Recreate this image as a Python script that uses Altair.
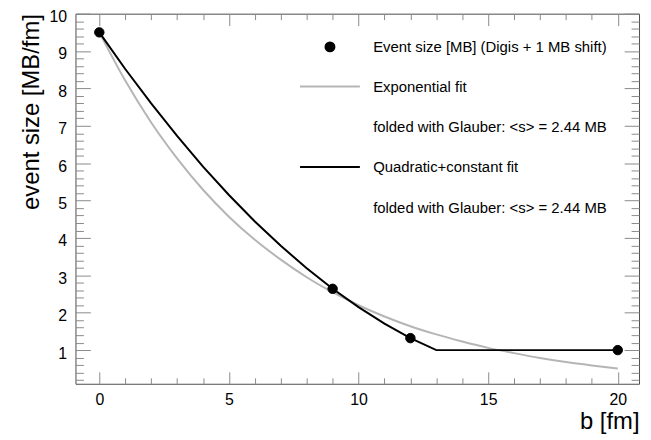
import altair as alt
import pandas as pd

# ---- data ----
pt_b = [0, 9, 12, 20]
pt_size = [9.5, 2.64, 1.32, 1.0]

exp_b = [0, 1, 2, 3, 4, 5, 6, 7, 8, 9, 10, 11, 12, 13, 14, 15, 16, 17, 18, 19, 20]
exp_size = [9.50, 8.21, 7.09, 6.13, 5.29, 4.57, 3.95, 3.42, 2.95, 2.55, 2.20,
            1.90, 1.64, 1.42, 1.23, 1.06, 0.92, 0.79, 0.68, 0.59, 0.51]

quad_b = [0, 1, 2, 3, 4, 5, 6, 7, 8, 9, 10, 11, 12, 13, 20]
quad_size = [9.50, 8.52, 7.60, 6.73, 5.91, 5.15, 4.44, 3.79, 3.19, 2.64, 2.15,
             1.71, 1.32, 1.00, 1.00]

legend_keys = ["pts", "exp", "g1", "quad", "g2"]
legend_labels = ["Event size [MB] (Digis + 1 MB shift)",
                 "Exponential fit",
                 "folded with Glauber: <s> = 2.44 MB",
                 "Quadratic+constant fit",
                 "folded with Glauber: <s> = 2.44 MB"]

x_major = [0, 5, 10, 15, 20]
x_minor = list(range(0, 21))
y_major = [1, 2, 3, 4, 5, 6, 7, 8, 9, 10]
y_minor = [round(0.2 * i, 1) for i in range(1, 51)]

# ---- layout ----
W, H = 568, 373
XD = [-0.92, 20.82]
YD = [0.1, 10]
FONT = "Liberation Sans"
TICK = "#8a8a8a"

pts_df = pd.DataFrame({"b": pt_b, "size": pt_size, "key": ["pts"] * len(pt_b)})
exp_df = pd.DataFrame({"b": exp_b, "size": exp_size})
quad_df = pd.DataFrame({"b": quad_b, "size": quad_size})

xs = alt.Scale(domain=XD, nice=False, zero=False)
ys = alt.Scale(domain=YD, nice=False, zero=False)

xtick = {"condition": {"test": "datum.value % 5 === 0", "value": 12}, "value": 6}
ytick = {"condition": {"test": "abs(datum.value - round(datum.value)) < 0.001", "value": 15}, "value": 8}

label_expr = " : ".join(
    f"datum.value == '{k}' ? '{l}'" for k, l in zip(legend_keys[:-1], legend_labels[:-1])
) + f" : '{legend_labels[-1]}'"

def tick_axis(orient, values, size, offset):
    return alt.Axis(orient=orient, values=values, tickSize=size, offset=offset,
                    labels=False, domain=False, grid=False, title=None,
                    tickColor=TICK, tickWidth=1)

gray = alt.Chart(exp_df).mark_line(color="#b5b5b5", strokeWidth=2, interpolate="monotone").encode(
    x=alt.X("b:Q", scale=xs, axis=alt.Axis(
        orient="bottom", values=x_major, ticks=False, tickSize=0, domain=False, grid=False,
        labelFontSize=16, labelFont=FONT, labelColor="black", labelPadding=8,
        title="b [fm]", titleAnchor="end", titleFontSize=24, titleFont=FONT,
        titleFontWeight="normal", titleColor="black", titlePadding=2)),
    y=alt.Y("size:Q", scale=ys, axis=alt.Axis(
        orient="left", values=y_major, ticks=False, tickSize=0, domain=False, grid=False,
        labelFontSize=16, labelFont=FONT, labelColor="black", labelPadding=9, labelOffset=3,
        title="event size [MB/fm]", titleAnchor="end", titleFontSize=24, titleFont=FONT,
        titleFontWeight="normal", titleColor="black", titlePadding=5)),
)

black = alt.Chart(quad_df).mark_line(color="black", strokeWidth=2, interpolate="linear").encode(
    x=alt.X("b:Q", scale=xs, axis=tick_axis("top", x_minor, xtick, -H)),
    y=alt.Y("size:Q", scale=ys, axis=tick_axis("right", y_minor, ytick, -W)),
)

leg = alt.Legend(title=None, orient="none", legendX=249, legendY=26,
                 labelExpr=label_expr, labelFont=FONT, labelFontSize=15,
                 labelColor="black", labelOffset=36, labelLimit=500,
                 rowPadding=24, symbolSize=81, symbolStrokeWidth=2,
                 padding=0, symbolOffset=0)

points = alt.Chart(pts_df).mark_point(filled=True, size=90, strokeWidth=1, opacity=1).encode(
    x=alt.X("b:Q", scale=xs, axis=tick_axis("bottom", x_minor, xtick, -H)),
    y=alt.Y("size:Q", scale=ys, axis=tick_axis("left", y_minor, ytick, -W)),
    fill=alt.Fill("key:N", scale=alt.Scale(domain=legend_keys,
                  range=["black", "transparent", "transparent", "transparent", "transparent"]), legend=leg),
    stroke=alt.Stroke("key:N", scale=alt.Scale(domain=legend_keys,
                  range=["black", "#b5b5b5", "transparent", "black", "transparent"]), legend=leg),
    shape=alt.Shape("key:N", scale=alt.Scale(domain=legend_keys,
                  range=["circle", "M-6.7,0L6.7,0", "circle", "M-6.7,0L6.7,0", "circle"]), legend=leg),
)

chart = alt.layer(gray, black, points).resolve_axis(
    x="independent", y="independent"
).properties(
    width=W, height=H,
    autosize=alt.AutoSizeParams(type="none"),
    padding={"left": 68, "top": 4, "right": 4, "bottom": 60},
    background="white",
).configure_view(stroke="#4d4d4d", strokeWidth=1)

chart.save("out.html", embed_options={"renderer": "svg", "actions": False})
